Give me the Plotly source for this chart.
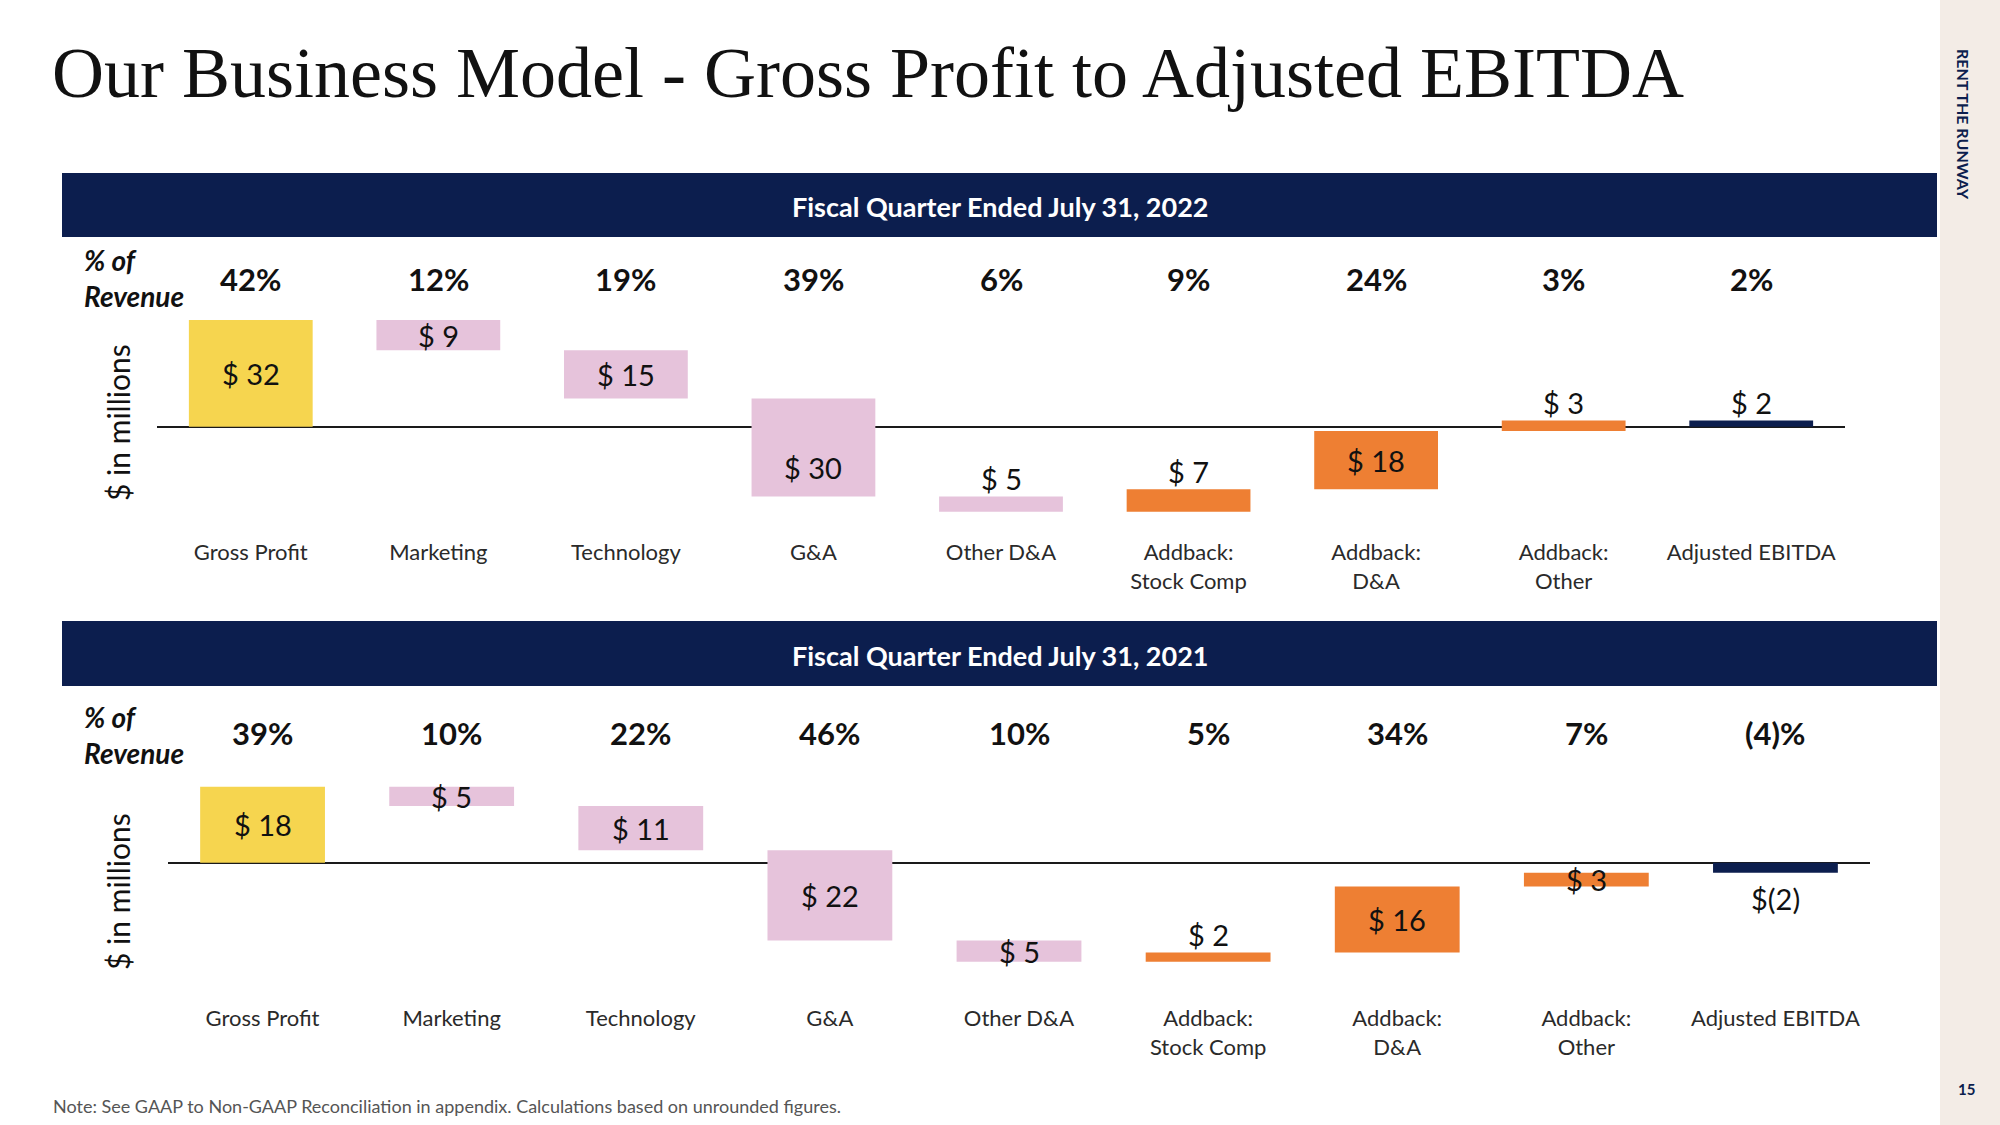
import plotly.graph_objects as go

# ---------------- data ----------------
categories = ["Gross Profit", "Marketing", "Technology", "G&A", "Other D&A",
              "Addback:<br>Stock Comp", "Addback:<br>D&A", "Addback:<br>Other",
              "Adjusted EBITDA"]
kinds = ["start", "cost", "cost", "cost", "cost", "addback", "addback", "addback", "total"]

values_2022 = [32.2, 9.1, 14.6, 29.6, 4.6, 6.8, 17.6, 3.2, 1.9]
values_2021 = [18.2, 4.6, 10.6, 21.6, 5.1, 2.2, 15.8, 3.3, -2.4]

pct_2022 = ["42%", "12%", "19%", "39%", "6%", "9%", "24%", "3%", "2%"]
pct_2021 = ["39%", "10%", "22%", "46%", "10%", "5%", "34%", "7%", "(4)%"]

header_2022 = "Fiscal Quarter Ended July 31, 2022"
header_2021 = "Fiscal Quarter Ended July 31, 2021"

# label placement relative to each bar (style only)
place_2022 = ["mid", "mid", "mid", "low", "above", "above", "mid", "above", "above"]
place_2021 = ["mid", "mid", "mid", "mid", "mid", "above", "mid", "mid", "below"]

# ---------------- style ----------------
W, H = 2000, 1125
NAVY = "#0C1E4E"
BEIGE = "#F3ECE6"
kind_colors = {"start": "#F6D54F", "cost": "#E6C3DB", "addback": "#EE7F33", "total": NAVY}
SANS = "Lato, 'Open Sans', sans-serif"


def px_x(p):
    return p / W


def px_y(p):
    return 1 - p / H


def waterfall(values):
    bases, heights = [], []
    running = 0.0
    for k, v in zip(kinds, values):
        if k == "start":
            bases.append(0.0); heights.append(v); running = v
        elif k == "cost":
            bases.append(running - v); heights.append(v); running -= v
        elif k == "addback":
            bases.append(running); heights.append(v); running += v
        else:
            bases.append(0.0); heights.append(v)
    return bases, heights


def money(v):
    r = int(round(v))
    return f"$ {r}" if r >= 0 else f"$({abs(r)})"


def note(x, y, text, size, color="#111111", family=SANS, xanchor="center",
         yanchor="middle", **kw):
    return dict(x=x, y=y, xref=kw.pop("xref", "paper"), yref=kw.pop("yref", "paper"),
                text=text, showarrow=False, xanchor=xanchor, yanchor=yanchor,
                font=dict(family=family, size=size, color=color), **kw)


fig = go.Figure()
annotations = []

panels = [
    dict(vals=values_2022, pct=pct_2022, place=place_2022, xa="x", ya="y",
         xdom=[px_x(157), px_x(1845)], ydom=[px_y(537), px_y(307.5)], yr=[-33.3, 36],
         pct_y=279, rev_y=278, mil_y=423, mil_x=118),
    dict(vals=values_2021, pct=pct_2021, place=place_2021, xa="x2", ya="y2",
         xdom=[px_x(168), px_x(1870)], ydom=[px_y(1003), px_y(762.6)], yr=[-33.6, 24],
         pct_y=733, rev_y=735, mil_y=892, mil_x=118),
]

for p in panels:
    bases, heights = waterfall(p["vals"])
    xs = list(range(len(categories)))
    fig.add_trace(go.Bar(
        x=xs, y=heights, base=bases, width=0.66,
        marker=dict(color=[kind_colors[k] for k in kinds], line=dict(width=0)),
        xaxis=p["xa"], yaxis=p["ya"], showlegend=False, hoverinfo="skip"))
    for i, (b, h, v, pl) in enumerate(zip(bases, heights, p["vals"], p["place"])):
        lo, hi = min(b, b + h), max(b, b + h)
        if pl == "mid":
            y, ys = (lo + hi) / 2, 0
        elif pl == "low":
            y, ys = (lo + hi) / 2, -20
        elif pl == "above":
            y, ys = hi, 18
        else:
            y, ys = lo, -26
        annotations.append(note(i, y, money(v), 29, xref=p["xa"], yref=p["ya"], yshift=ys))
    for i, t in enumerate(p["pct"]):
        annotations.append(note(i, px_y(p["pct_y"]), f"<b>{t}</b>", 31, xref=p["xa"]))
    annotations.append(note(px_x(82), px_y(p["rev_y"]), "<b><i>% of<br>Revenue</i></b>", 28,
                            xanchor="left", align="left"))
    annotations.append(note(px_x(p["mil_x"]), px_y(p["mil_y"]), "$ in millions", 30,
                            textangle=-90))

shapes = [
    dict(type="rect", xref="paper", yref="paper", x0=px_x(1940), x1=1, y0=0, y1=1,
         fillcolor=BEIGE, line=dict(width=0), layer="below"),
    dict(type="rect", xref="paper", yref="paper", x0=px_x(62), x1=px_x(1937),
         y0=px_y(237), y1=px_y(173), fillcolor=NAVY, line=dict(width=0)),
    dict(type="rect", xref="paper", yref="paper", x0=px_x(62), x1=px_x(1937),
         y0=px_y(686), y1=px_y(621), fillcolor=NAVY, line=dict(width=0)),
]
annotations += [
    note(px_x(1000), px_y(206), f"<b>{header_2022}</b>", 27, color="white"),
    note(px_x(1000), px_y(655), f"<b>{header_2021}</b>", 27, color="white"),
    note(px_x(50), px_y(73), "Our Business Model - Gross Profit to Adjusted EBITDA", 72,
         family="'Liberation Serif', serif", xanchor="left"),
    note(px_x(1964), px_y(124), "<b>RENT THE RUNWAY</b>", 16, color=NAVY, textangle=90),
    note(px_x(1966), px_y(1089), "<b>15</b>", 15, color=NAVY),
    note(px_x(51), px_y(1106),
         "Note: See GAAP to Non-GAAP Reconciliation in appendix. Calculations based on unrounded figures.",
         18, color="#555555", xanchor="left"),
]

axis_common_x = dict(range=[-0.5, 8.5], tickmode="array", tickvals=list(range(len(categories))),
                     ticktext=categories, showgrid=False, zeroline=False, showline=False,
                     ticks="", fixedrange=True,
                     tickfont=dict(family=SANS, size=22, color="#2A2A2A"))
axis_common_y = dict(showgrid=False, zeroline=True, zerolinecolor="#1A1A1A", zerolinewidth=2,
                     showticklabels=False, ticks="", showline=False, layer="above traces",
                     fixedrange=True)

fig.update_layout(
    width=W, height=H, margin=dict(l=0, r=0, t=0, b=0),
    paper_bgcolor="white", plot_bgcolor="rgba(0,0,0,0)",
    barmode="overlay",
    xaxis=dict(domain=panels[0]["xdom"], anchor="y", **axis_common_x),
    yaxis=dict(domain=panels[0]["ydom"], range=panels[0]["yr"], anchor="x", **axis_common_y),
    xaxis2=dict(domain=panels[1]["xdom"], anchor="y2", **axis_common_x),
    yaxis2=dict(domain=panels[1]["ydom"], range=panels[1]["yr"], anchor="x2", **axis_common_y),
    shapes=shapes, annotations=annotations,
)

fig.write_html("out.html", config={"displayModeBar": False})

# remove the browser's default body margin so the figure fills the window exactly
with open("out.html", encoding="utf-8") as f:
    html = f.read()
html = html.replace("<body>", '<body style="margin:0;padding:0;overflow:hidden">', 1)
with open("out.html", "w", encoding="utf-8") as f:
    f.write(html)
